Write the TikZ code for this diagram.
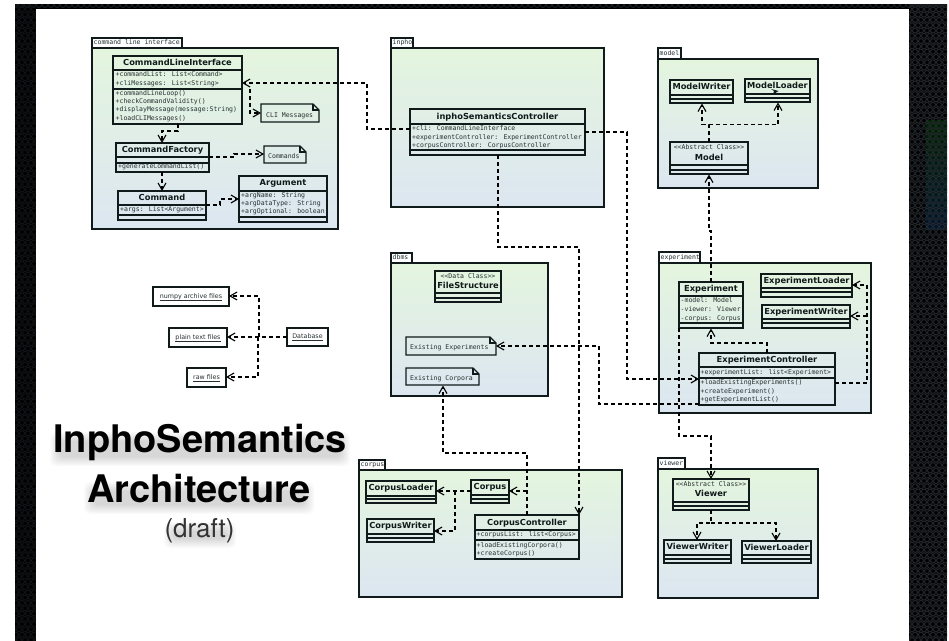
\documentclass[tikz,border=0pt]{standalone}
\usepackage{fontspec}
\setmainfont{DejaVu Sans}
\newfontfamily\monof{DejaVu Sans Mono}
\newfontfamily\sansb{DejaVu Sans}
\newfontfamily\heros{TeX Gyre Heros}
\usetikzlibrary{arrows.meta}
\definecolor{ink}{HTML}{101A1A}
\definecolor{txt}{HTML}{263030}
\definecolor{pkgtop}{HTML}{E4F5DE}
\definecolor{pkgbot}{HTML}{DCE6F1}
\definecolor{ring}{HTML}{262B30}
\newcounter{tn}
\tikzset{
  classbox/.style={draw=ink,line width=1.2pt,inner sep=0pt,outer sep=0pt},
  classline/.style={draw=ink,line width=1.2pt},
  pkgbox/.style={draw=ink,line width=1.2pt,top color=pkgtop,bottom color=pkgbot,inner sep=0pt,outer sep=0pt},
  tabbox/.style={draw=ink,line width=1.2pt,fill=white,inner sep=0pt,outer sep=0pt},
  anchorbox/.style={inner sep=0pt,outer sep=0pt},
  dep/.style={draw=black,line width=1.05pt,dash pattern=on 4pt off 3pt,-{Straight Barb[length=7pt,width=8pt,line width=1.1pt]}},
  monotext/.style={font=\monof\fontsize{6.5}{7}\selectfont,text=txt,inner sep=0pt,text height=5pt,text depth=1.5pt},
  boldtext/.style={font=\sansb\bfseries\fontsize{8.3}{9}\selectfont,text=ink,inner sep=0pt,text height=6pt,text depth=1.5pt},
  filetext/.style={font=\sansb\fontsize{6.35}{7}\selectfont,text=txt,inner sep=0pt,text height=5pt,text depth=1.5pt},
  filebox/.style={draw=ink,line width=1.2pt,inner sep=0pt,outer sep=0pt},
  titletext/.style={font=\heros\bfseries\fontsize{38}{40}\selectfont,text=black,inner sep=0pt,anchor=base},
  drafttext/.style={font=\heros\fontsize{26}{28}\selectfont,text=black!80,inner sep=0pt,anchor=base},
  hazebox/.style={fill=black,opacity=.014,rounded corners=6pt,draw=none}
}
\newcommand{\boxat}[6]{% style name x1 y1 x2 y2
  \pgfmathsetmacro\cx{(#3+#5)/2}\pgfmathsetmacro\cy{(#4+#6)/2}%
  \pgfmathsetmacro\cw{#5-#3}\pgfmathsetmacro\ch{#6-#4}%
  \node[#1,minimum width=\cw pt,minimum height=\ch pt] (#2) at (\cx,\cy) {};}
\newcommand{\pkg}[8]{% name x1 y1 x2 y2 tabx tabtop label
  \boxat{tabbox}{#1tab}{#2}{#7}{#6}{#3}
  \stepcounter{tn}\node[monotext,anchor=west] (t\arabic{tn}) at (#2+1.5,{(#7+#3)/2}) {#8};
  \boxat{pkgbox}{#1}{#2}{#3}{#4}{#5}}
\newcommand{\cbox}[7]{% name x1 y1 x2 y2 s1 s2
  \boxat{classbox}{#1}{#2}{#3}{#4}{#5}
  \draw[classline] (#1.west |- 0,#6) -- (#1.east |- 0,#6);
  \draw[classline] (#1.west |- 0,#7) -- (#1.east |- 0,#7);}
\newcommand{\nm}[3]{\stepcounter{tn}\node[boldtext] (t\arabic{tn}) at (#1,#2) {#3};}
\newcommand{\st}[3]{\stepcounter{tn}\node[monotext] (t\arabic{tn}) at (#1,#2) {#3};}
\newcommand{\at}[3]{\stepcounter{tn}\node[monotext,anchor=west] (t\arabic{tn}) at (#1,#2) {#3};}
\newcommand{\notebox}[8]{% name x1 y1 x2 y2 textx texty text
  \boxat{anchorbox}{#1}{#2}{#3}{#4}{#5}
  \draw[classline,line join=miter] (#2,#3) -- (#4-6,#3) -- (#4,#3+6) -- (#4,#5) -- (#2,#5) -- cycle;
  \draw[classline] (#4-6,#3) -- (#4-6,#3+6) -- (#4,#3+6);
  \at{#6}{#7}{#8}}
\newcommand{\filenode}[6]{% name x1 y1 x2 y2 text
  \boxat{filebox}{#1}{#2}{#3}{#4}{#5}
  \node[filetext] (#1t) at (#1) {#6};
  \draw[draw=txt,line width=.8pt] ([yshift=-.4pt]#1t.south west) -- ([yshift=-.4pt]#1t.south east);}
\newcommand{\haze}[4]{% x1 ytop x2 ybottom: soft shadow under a title line
  \foreach \g in {0,1,...,9}{
    \fill[hazebox] ({#1+\g},{#2+\g}) rectangle ({#3-\g},{#4-\g});
  }}
\begin{document}
\begin{tikzpicture}[x=1pt,y=-1pt]
\useasboundingbox (0,0) rectangle (949,640);
\fill[white] (0,0) rectangle (949,640);
% dark slide background
\fill[black] (15,4) rectangle (947,660);
\fill[top color=green!45!black,bottom color=blue!55!cyan!60!black,opacity=.3] (926,120) rectangle (947,229);
\begin{scope}
  \clip (909,4) rectangle (947,660);
  \foreach \r in {0,...,122}{
    \pgfmathsetmacro\yy{4+\r*5.3}
    \pgfmathsetmacro\off{mod(\r,2)*3}
    \foreach \c in {0,...,7}{
      \draw[ring,line width=1pt,opacity=.9] ({906+\c*6+\off},\yy) circle (2.5);
    }
  }
\end{scope}
\begin{scope}
  \clip (15,4) rectangle (947,9);
  \foreach \c in {0,...,156}{
    \draw[ring!70!black,line width=1pt] ({15+\c*6},5) circle (2.5);
  }
\end{scope}
\begin{scope}
  \clip (15,4) rectangle (36,660);
  \foreach \r in {0,...,122}{
    \pgfmathsetmacro\yy{4+\r*5.3}
    \pgfmathsetmacro\off{mod(\r,2)*3}
    \foreach \c in {0,...,4}{
      \draw[ring!45!black,line width=1pt] ({13+\c*6+\off},\yy) circle (2.5);
    }
  }
\end{scope}
\fill[white] (36,9) rectangle (909,660);

% packages
\pkg{cli}{92}{48}{338}{229}{182}{38}{command line interface}
\pkg{inpho}{391}{48}{604}{207}{413}{38}{inpho}
\pkg{model}{658}{59}{818}{188}{681}{48}{model}
\pkg{dbms}{391}{263}{548}{396}{412}{253}{dbms}
\pkg{experiment}{659}{263}{871}{413}{700}{252}{experiment}
\pkg{corpus}{359}{470}{622}{597}{385}{460}{corpus}
\pkg{viewer}{658}{469}{818}{598}{685}{458}{viewer}

% command line interface
\cbox{clif}{113}{56}{242}{124}{70}{89}
\nm{177.5}{63}{CommandLineInterface}
\at{115.5}{75}{+commandList: List<Command>}
\at{115.5}{84}{+cliMessages: List<String>}
\at{115.5}{94}{+commandLineLoop()}
\at{115.5}{102}{+checkCommandValidity()}
\at{115.5}{110}{+displayMessage(message:String)}
\at{115.5}{119}{+loadCLIMessages()}
\cbox{factory}{116}{143}{209}{172}{157}{163}
\nm{162.5}{150}{CommandFactory}
\at{118}{167}{+generateCommandList()}
\cbox{command}{118}{191}{206}{220}{205}{215}
\nm{162}{198}{Command}
\at{120}{210}{+args: List<Argument>}
\cbox{argument}{239}{176}{327}{222}{191}{217}
\nm{283}{183}{Argument}
\at{241}{196}{+argName: String}
\at{241}{204}{+argDataType: String}
\at{241}{212}{+argOptional: boolean}
\notebox{climsg}{261}{104}{319}{122}{266}{116}{CLI Messages}
\notebox{cmds}{264}{146}{306}{163}{268}{157}{Commands}

% inpho
\cbox{isc}{410}{109}{585}{155}{124}{150}
\nm{497.5}{117}{inphoSemanticsController}
\at{412}{129}{+cli: CommandLineInterface}
\at{412}{138}{+experimentController: ExperimentController}
\at{412}{146}{+corpusController: CorpusController}

% model
\cbox{mwriter}{670}{80}{733}{103}{95}{99}
\nm{701.5}{87}{ModelWriter}
\cbox{mloader}{745}{79}{810}{102}{94}{98}
\nm{777.5}{86}{ModelLoader}
\cbox{mmodel}{670}{142}{748}{174}{165}{170}
\st{709}{148}{<<Abstract Class>>}
\nm{709}{158}{Model}

% experiment
\cbox{exp}{679}{282}{743}{328}{296}{323}
\nm{711}{289}{Experiment}
\at{680.5}{301}{-model: Model}
\at{680.5}{310}{-viewer: Viewer}
\at{680.5}{319}{-corpus: Corpus}
\cbox{eloader}{761}{274}{852}{297}{288}{292}
\nm{806.5}{281}{ExperimentLoader}
\cbox{ewriter}{762}{305}{850}{328}{319}{323}
\nm{806}{312}{ExperimentWriter}
\cbox{ectrl}{699}{353}{835}{405}{367}{378}
\nm{767}{360}{ExperimentController}
\at{700.5}{373}{+experimentList: list<Experiment>}
\at{700.5}{383}{+loadExistingExperiments()}
\at{700.5}{392}{+createExperiment()}
\at{700.5}{400}{+getExperimentList()}

% dbms
\cbox{fstruct}{435}{271}{501}{302}{293}{298}
\st{468}{277}{<<Data Class>>}
\nm{468}{286}{FileStructure}
\notebox{exexp}{406}{337}{496}{355}{410}{348}{Existing Experiments}
\notebox{excor}{406}{368}{479}{385}{410}{379}{Existing Corpora}

% corpus
\cbox{cloader}{366}{481}{436}{503}{496}{499}
\nm{401}{488}{CorpusLoader}
\cbox{cwriter}{367}{519}{434}{542}{534}{538}
\nm{400.5}{526}{CorpusWriter}
\cbox{corp}{471}{480}{509}{503}{495}{499}
\nm{490}{487}{Corpus}
\cbox{cctrl}{475}{515}{579}{559}{530}{540}
\nm{527}{523}{CorpusController}
\at{476.5}{535}{+corpusList: list<Corpus>}
\at{476.5}{546}{+loadExistingCorpora()}
\at{476.5}{554}{+createCorpus()}

% viewer
\cbox{view}{673}{479}{749}{510}{502}{506}
\st{711}{485}{<<Abstract Class>>}
\nm{711}{494}{Viewer}
\cbox{vwriter}{664}{540}{731}{563}{555}{559}
\nm{697.5}{547}{ViewerWriter}
\cbox{vloader}{742}{541}{811}{563}{555}{559}
\nm{776.5}{548}{ViewerLoader}

% files
\filenode{numpyf}{153}{287}{229}{306}{numpy archive files}
\filenode{plainf}{169}{328}{227}{347}{plain text files}
\filenode{rawf}{187}{368}{226}{387}{raw files}
\filenode{dbf}{287}{328}{328}{346}{Database}

% connectors
\draw[dep] (isc.west |- 0,129) -- (367,129) -- (367,83) -- (clif.east |- 0,83);
\draw[dep] (250,89) -- (250,113) -- (climsg.west |- 0,113);
\draw[dep] (178,124) -- (178,131) -- (162,131) -- (162,143);
\draw[dep] (factory.east |- 0,157) -- (234,157) -- (234,154) -- (cmds.west |- 0,154);
\draw[dep] (162,172) -- (162,191);
\draw[dep] (command.east |- 0,205) -- (220,205) -- (220,199) -- (argument.west |- 0,199);

\draw[dep] (isc.east |- 0,132) -- (627,132) -- (627,379) -- (ectrl.west |- 0,379);
\draw[dep] (498,155) -- (498,247) -- (579,247) -- (579,515);

\draw[dep] (709,142) -- (709,124.5) -- (702,124.5) -- (702,103.5);
\draw[dep] (709,124.5) -- (778,124.5) -- (778,102.5);
\draw[dep] (711,282) -- (711,231) -- (709,231) -- (709,174.5);
\fill[ink] (771,89) -- (778.5,91) -- (773,94.5) -- (774,91) -- cycle;

\draw[dep] (767,353) -- (767,343) -- (711,343) -- (711,328.5);
\draw[dep] (ectrl.east |- 0,383) -- (867,383) -- (867,285) -- (eloader.east |- 0,285);
\draw[dep] (867,316) -- (ewriter.east |- 0,316);
\draw[dep] (ectrl.west |- 0,404) -- (599,404) -- (599,346) -- (exexp.east |- 0,346);
\draw[dep] (679,328) -- (679,436) -- (711,436) -- (711,479);

\draw[dep] (527,515) -- (527,453) -- (443,453) -- (443,385.5);
\draw[dep] (527,491) -- (corp.east |- 0,491);
\draw[dep] (corp.west |- 0,491) -- (cloader.east |- 0,491);
\draw[dep] (455,491) -- (455,531) -- (cwriter.east |- 0,531);

\draw[dep] (711,510) -- (711,523) -- (697,523) -- (697,540);
\draw[dep] (711,523) -- (776,523) -- (776,541);

\draw[dep] (dbf.west |- 0,337) -- (plainf.east |- 0,337);
\draw[dep] (259,337) -- (259,296) -- (numpyf.east |- 0,296);
\draw[dep] (258,337) -- (258,377) -- (rawf.east |- 0,377);

% title, over a soft shadow
\haze{50}{432}{350}{466}
\haze{84}{482}{314}{514}
\haze{164}{522}{236}{548}
\node[titletext] (title1) at (200,452) {InphoSemantics};
\node[titletext] (title2) at (199,502) {Architecture};
\node[drafttext] (title3) at (199.5,537) {(draft)};
\end{tikzpicture}
\end{document}
